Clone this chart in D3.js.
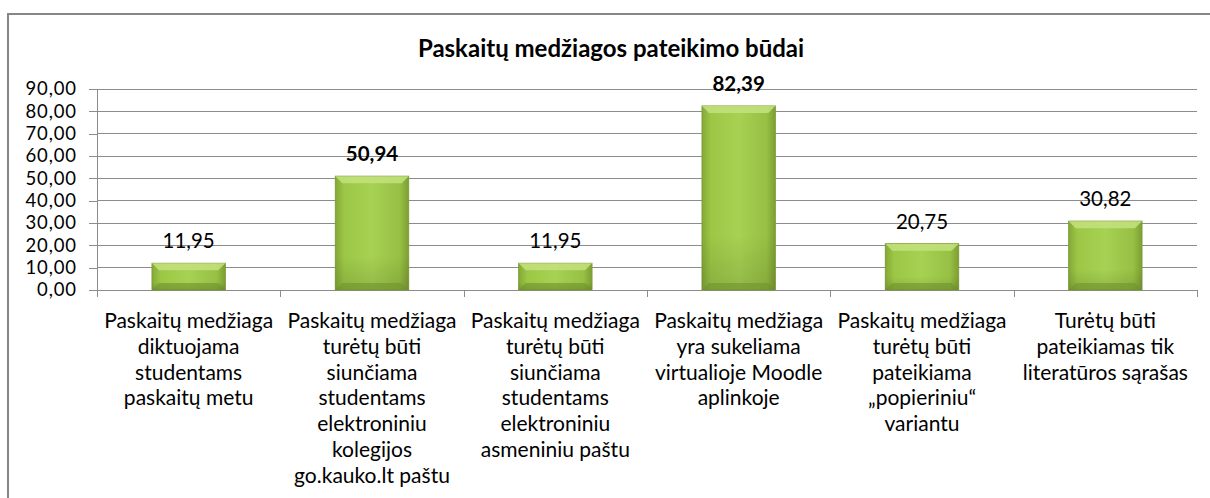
<!DOCTYPE html>
<html>
<head>
<meta charset="utf-8">
<script src="https://cdn.jsdelivr.net/npm/d3@7"></script>
<style>
  body { margin: 0; background: #fff; }
  svg { display: block; font-family: Lato, "Open Sans", sans-serif; }
</style>
</head>
<body>
<svg class="chart" width="1210" height="498"></svg>
<script>
const categories = [
  ["Paskaitų medžiaga", "diktuojama", "studentams", "paskaitų metu"],
  ["Paskaitų medžiaga", "turėtų būti", "siunčiama", "studentams", "elektroniniu", "kolegijos", "go.kauko.lt paštu"],
  ["Paskaitų medžiaga", "turėtų būti", "siunčiama", "studentams", "elektroniniu", "asmeniniu paštu"],
  ["Paskaitų medžiaga", "yra sukeliama", "virtualioje Moodle", "aplinkoje"],
  ["Paskaitų medžiaga", "turėtų būti", "pateikiama", "„popieriniu“", "variantu"],
  ["Turėtų būti", "pateikiamas tik", "literatūros sąrašas"]
]
const values = [11.95, 50.94, 11.95, 82.39, 20.75, 30.82]
const boldLabels = [false, true, false, true, false, false]
const yTicks = [0, 10, 20, 30, 40, 50, 60, 70, 80, 90]
const title = "Paskaitų medžiagos pateikimo būdai"

const svg = d3.select('.chart')
const idx = d3.range(values.length)

const x = d3.scaleBand(idx, [97, 1197])
const y = d3.scaleLinear([0, 90], [290, 89])
const fmt = d => d.toFixed(2).replace('.', ',')

// frame
svg.append('rect')
  .attr('x', 8).attr('y', 14)
  .attr('width', 1300).attr('height', 600)
  .attr('fill', 'none')
  .attr('stroke', '#868686')
  .attr('stroke-width', 2)

// title
svg.append('text')
  .text(title)
  .attr('x', 611).attr('y', 57)
  .attr('text-anchor', 'middle')
  .attr('font-size', '24px')
  .attr('font-weight', 'bold')
  .attr('fill', '#000')

// gridlines
svg.append('g')
  .selectAll('line')
  .data(yTicks)
  .join('line')
  .attr('x1', 97).attr('x2', 1197)
  .attr('y1', d => y(d)).attr('y2', d => y(d))
  .attr('stroke', '#8c8c8c')
  .attr('stroke-width', 1)
  .attr('shape-rendering', 'crispEdges')

// y axis
const yAxis = d3.axisLeft(y).tickValues(yTicks).tickFormat(fmt).tickSize(8).tickPadding(12)
const gy = svg.append('g').attr('transform', 'translate(97,0)').call(yAxis)
gy.selectAll('path, line').attr('stroke', '#8c8c8c').attr('shape-rendering', 'crispEdges')
gy.selectAll('text')
  .attr('font-size', '18.5px')
  .attr('letter-spacing', '0.9px')
  .attr('font-family', 'Lato, sans-serif')
  .attr('fill', '#000')

// x axis ticks at category boundaries
const xb = d3.scaleLinear([0, values.length], [97, 1197])
const xAxis = d3.axisBottom(xb).tickValues(d3.range(values.length + 1)).tickFormat('').tickSize(7)
const gx = svg.append('g').attr('transform', 'translate(0,290)').call(xAxis)
gx.selectAll('path, line').attr('stroke', '#8c8c8c').attr('shape-rendering', 'crispEdges')

// gradients
const defs = svg.append('defs')
const gH = defs.append('linearGradient').attr('id', 'barH')
gH.append('stop').attr('offset', '0%').attr('stop-color', '#84a936')
gH.append('stop').attr('offset', '12%').attr('stop-color', '#9cc746')
gH.append('stop').attr('offset', '50%').attr('stop-color', '#a6d152')
gH.append('stop').attr('offset', '88%').attr('stop-color', '#97c044')
gH.append('stop').attr('offset', '100%').attr('stop-color', '#7c9f32')
const gV = defs.append('linearGradient').attr('id', 'barV').attr('x2', 0).attr('y2', 1)
gV.append('stop').attr('offset', '0%').attr('stop-color', '#ffffff').attr('stop-opacity', 0)
gV.append('stop').attr('offset', '70%').attr('stop-color', '#000000').attr('stop-opacity', 0)
gV.append('stop').attr('offset', '100%').attr('stop-color', '#000000').attr('stop-opacity', 0.12)

const bw = x.bandwidth() / 2.5
const bx = i => x(i) + (x.bandwidth() - bw) / 2
const bev = 7

const bars = svg.append('g').selectAll('g').data(idx).join('g')
bars.append('rect')
  .attr('x', i => bx(i))
  .attr('y', i => y(values[i]))
  .attr('width', bw)
  .attr('height', i => y(0) - y(values[i]))
  .attr('fill', 'url(#barH)')
  .attr('stroke', '#7f9c3c')
  .attr('stroke-width', 1)
bars.append('rect')
  .attr('x', i => bx(i))
  .attr('y', i => y(values[i]))
  .attr('width', bw)
  .attr('height', i => y(0) - y(values[i]))
  .attr('fill', 'url(#barV)')
// top bevel
bars.append('path')
  .attr('d', i => {
    const x0 = bx(i), x1 = bx(i) + bw, t = y(values[i])
    return `M${x0},${t}L${x1},${t}L${x1 - bev},${t + bev}L${x0 + bev},${t + bev}Z`
  })
  .attr('fill', '#c3e27e')
  .attr('opacity', 0.85)
// bottom bevel
bars.append('path')
  .attr('d', i => {
    const x0 = bx(i), x1 = bx(i) + bw, b = y(0)
    return `M${x0},${b}L${x1},${b}L${x1 - bev},${b - bev}L${x0 + bev},${b - bev}Z`
  })
  .attr('fill', '#6f8f2c')
  .attr('opacity', 0.55)

// value labels
svg.append('g').selectAll('text').data(idx).join('text')
  .text(i => fmt(values[i]))
  .attr('x', i => x(i) + x.bandwidth() / 2)
  .attr('y', i => y(values[i]) - 15)
  .attr('text-anchor', 'middle')
  .attr('font-size', '20.5px')
  .attr('font-weight', i => boldLabels[i] ? 'bold' : 'normal')
  .attr('fill', '#000')

// category labels
const cl = svg.append('g').selectAll('text').data(idx).join('text')
  .attr('text-anchor', 'middle')
  .attr('font-size', '21px')
  .attr('fill', '#000')
cl.selectAll('tspan')
  .data(i => categories[i].map((t, k) => ({t, k, i})))
  .join('tspan')
  .text(d => d.t)
  .attr('x', d => x(d.i) + x.bandwidth() / 2)
  .attr('y', d => 328 + d.k * 25.8)
</script>
</body>
</html>
